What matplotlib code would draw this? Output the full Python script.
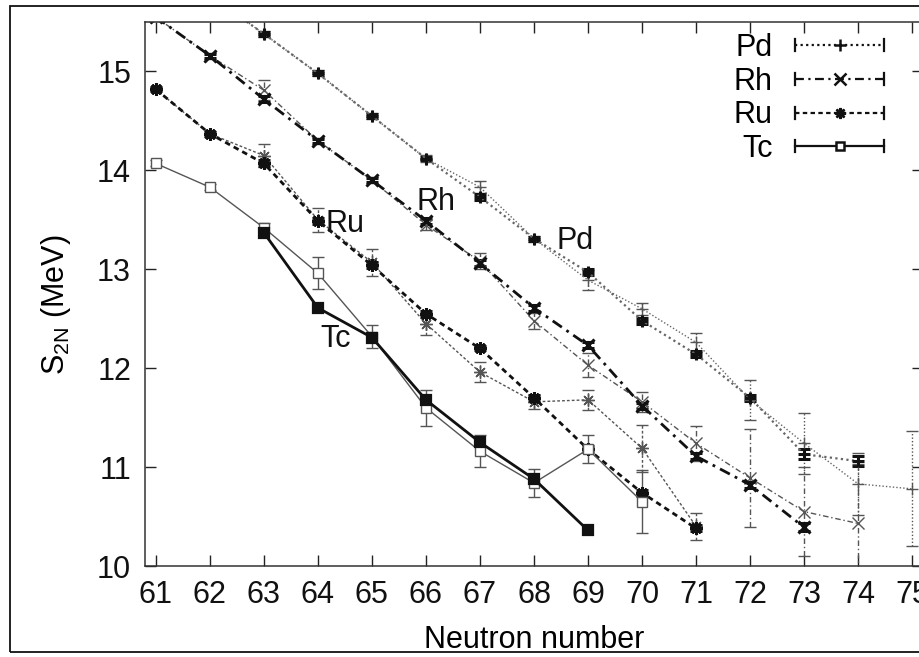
import numpy as np
import matplotlib
matplotlib.use("Agg")
import matplotlib.pyplot as plt
from matplotlib.lines import Line2D
from matplotlib.patches import Rectangle
from matplotlib.legend_handler import HandlerBase

plt.rcParams['font.family'] = ['Liberation Sans', 'DejaVu Sans']
plt.rcParams['font.size'] = 22

# two-neutron separation energies (MeV); "calc" = thin open symbols, "exp" = heavy symbols
n_pd_calc = [62, 63, 64, 65, 66, 67, 68, 69, 70, 71, 72, 73, 74, 75]
s_pd_calc = [15.77, 15.38, 14.98, 14.55, 14.12, 13.83, 13.31, 12.89, 12.60, 12.26, 11.68, 11.24, 10.83, 10.78]
e_pd_calc = [0.03, 0.03, 0.03, 0.03, 0.04, 0.06, 0.03, 0.10, 0.06, 0.10, 0.20, 0.31, 0.31, 0.58]
n_pd_exp = [62, 63, 64, 65, 66, 67, 68, 69, 70, 71, 72, 73, 74]
s_pd_exp = [15.77, 15.38, 14.98, 14.55, 14.12, 13.73, 13.31, 12.97, 12.48, 12.14, 11.70, 11.13, 11.06]
e_pd_exp = [0.02, 0.02, 0.02, 0.02, 0.02, 0.03, 0.02, 0.03, 0.03, 0.03, 0.03, 0.05, 0.05]

n_rh_calc = [61, 62, 63, 64, 65, 66, 67, 68, 69, 70, 71, 72, 73, 74]
s_rh_calc = [15.55, 15.16, 14.81, 14.30, 13.90, 13.45, 13.08, 12.48, 12.03, 11.66, 11.24, 10.89, 10.55, 10.43]
e_rh_calc = [0.02, 0.03, 0.10, 0.03, 0.03, 0.05, 0.08, 0.08, 0.12, 0.10, 0.18, 0.50, 0.45, 0.60]
n_rh_exp = [61, 62, 63, 64, 65, 66, 67, 68, 69, 70, 71, 72, 73]
s_rh_exp = [15.55, 15.16, 14.72, 14.30, 13.90, 13.49, 13.06, 12.61, 12.23, 11.62, 11.11, 10.82, 10.39]
e_rh_exp = [0.02, 0.02, 0.03, 0.02, 0.02, 0.03, 0.03, 0.03, 0.03, 0.03, 0.03, 0.03, 0.04]

n_ru_calc = [61, 62, 63, 64, 65, 66, 67, 68, 69, 70, 71]
s_ru_calc = [14.82, 14.37, 14.15, 13.50, 13.07, 12.45, 11.96, 11.66, 11.68, 11.19, 10.40]
e_ru_calc = [0.02, 0.03, 0.12, 0.12, 0.14, 0.11, 0.10, 0.07, 0.10, 0.24, 0.14]
n_ru_exp = [61, 62, 63, 64, 65, 66, 67, 68, 69, 70, 71]
s_ru_exp = [14.82, 14.37, 14.07, 13.49, 13.04, 12.55, 12.20, 11.70, 11.18, 10.74, 10.38]
e_ru_exp = [0.02, 0.02, 0.03, 0.03, 0.03, 0.03, 0.02, 0.03, 0.03, 0.03, 0.03]

n_tc_calc = [61, 62, 63, 64, 65, 66, 67, 68, 69, 70]
s_tc_calc = [14.07, 13.83, 13.42, 12.96, 12.32, 11.60, 11.16, 10.84, 11.18, 10.65]
e_tc_calc = [0.03, 0.03, 0.05, 0.16, 0.12, 0.18, 0.16, 0.14, 0.14, 0.32]
n_tc_exp = [63, 64, 65, 66, 67, 68, 69]
s_tc_exp = [13.37, 12.61, 12.31, 11.68, 11.25, 10.88, 10.36]
e_tc_exp = [0.03, 0.03, 0.03, 0.03, 0.03, 0.03, 0.03]

names = ['Pd', 'Rh', 'Ru', 'Tc']
name_x = [68.76, 66.19, 64.50, 64.33]
name_y = [13.29, 13.68, 13.46, 12.30]

# gnuplot-like line types
styles = {
    'Pd': dict(ls=(0, (1, 1.5)), marker='+', line='#666666'),
    'Rh': dict(ls=(0, (4, 2, 1, 2)), marker='x', line=None),
    'Ru': dict(ls=(0, (2, 1.5)), marker=(8, 2, 0), line=None),
    'Tc': dict(ls='-', marker='s', line=None),
}

fig = plt.figure(figsize=(9.2, 6.57), dpi=100)
ax = fig.add_axes([0.1576, 0.1385, 0.8457, 0.828])


def draw(n, s, e, name, heavy):
    st = styles[name]
    col = '#111111' if heavy else '#555555'
    lcol = st['line'] or col
    lw = 2.0 if heavy else 1.0
    if name == 'Pd':
        lw = 1.6 if heavy else 1.0
    kw = dict(color=lcol, lw=lw, marker=st['marker'], ms=9 if st['marker'] != 's' else 7,
              mew=2.2 if heavy else 1.0, mec=col, capsize=4, elinewidth=1.0, capthick=1.0,
              ecolor=col)
    if st['marker'] == 's':
        kw['mfc'] = '#111111' if heavy else 'white'
        kw['mew'] = 1.6 if heavy else 1.0
    eb = ax.errorbar(n, s, yerr=e, ls=st['ls'], **kw)
    for bar in eb[2]:
        bar.set_linestyle(st['ls'])
    return eb[0]


handles = {}
draw(n_pd_calc, s_pd_calc, e_pd_calc, 'Pd', False)
handles['Pd'] = draw(n_pd_exp, s_pd_exp, e_pd_exp, 'Pd', True)
draw(n_rh_calc, s_rh_calc, e_rh_calc, 'Rh', False)
handles['Rh'] = draw(n_rh_exp, s_rh_exp, e_rh_exp, 'Rh', True)
draw(n_ru_calc, s_ru_calc, e_ru_calc, 'Ru', False)
handles['Ru'] = draw(n_ru_exp, s_ru_exp, e_ru_exp, 'Ru', True)
draw(n_tc_calc, s_tc_calc, e_tc_calc, 'Tc', False)
handles['Tc'] = draw(n_tc_exp, s_tc_exp, e_tc_exp, 'Tc', True)

for nm, x, y in zip(names, name_x, name_y):
    ax.text(x, y, nm, ha='center', va='center', color='#111111')


class CapLineHandler(HandlerBase):
    # legend key drawn as a line with end caps and the symbol in the middle
    def create_artists(self, legend, orig_handle, xdescent, ydescent,
                       width, height, fontsize, trans):
        y = height / 2 - ydescent
        x0, x1 = -xdescent, width - xdescent
        h = height * 0.28
        line = Line2D([x0, x1], [y, y])
        line.update_from(orig_handle)
        line.set_marker('')
        line.set_color('#111111')
        line.set_linewidth(1.6)
        caps = Line2D([x0, x0, np.nan, x1, x1], [y - h, y + h, np.nan, y - h, y + h],
                      color='#111111', lw=1.6)
        mark = Line2D([(x0 + x1) / 2], [y])
        mark.update_from(orig_handle)
        mark.set_linestyle('')
        mark.set_markersize(8 if orig_handle.get_marker() != 's' else 6)
        mark.set_markeredgewidth(1.8)
        if orig_handle.get_marker() == 's':
            mark.set_markerfacecolor('white')
        for a in (line, caps, mark):
            a.set_transform(trans)
        return [line, caps, mark]


leg = ax.legend([handles[k] for k in names], names, loc='upper right',
                bbox_to_anchor=(884 / 920, 1 - 33 / 657), bbox_transform=fig.transFigure,
                frameon=False, markerfirst=False, handlelength=2.9, handletextpad=0.75,
                labelspacing=0.12, borderpad=0, borderaxespad=0,
                handler_map={Line2D: CapLineHandler()})

ax.set_xlim(60.8, 75.2)
ax.set_ylim(10, 15.5)
ax.set_xticks(range(61, 76))
ax.set_yticks(range(10, 16))
ax.tick_params(direction='in', length=8, width=1, top=True, right=True, pad=10,
               colors='#222222', labelcolor='#111111')
for sp in ax.spines.values():
    sp.set_linewidth(1.1)
    sp.set_color('#333333')

ax.set_xlabel('Neutron number')
ax.set_ylabel(r'S$_\mathregular{2N}$ (MeV)')
ax.xaxis.set_label_coords(0.5, -0.108)
ax.yaxis.set_label_coords(-0.092, 0.48)

# outer frame round the whole figure
fig.patches.append(Rectangle((10 / 920, 5 / 657), 1.0, 1 - 11 / 657,
                             transform=fig.transFigure, fill=False,
                             lw=1.3, ec='#111111'))

fig.savefig('out.png', dpi=100)
